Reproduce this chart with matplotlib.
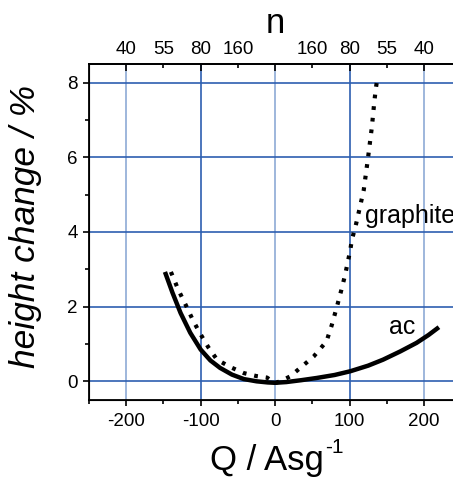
import numpy as np
from matplotlib import pyplot as plt
from matplotlib.ticker import FixedLocator, FixedFormatter

plt.rcParams['font.family'] = ['Liberation Sans', 'DejaVu Sans']
plt.rcParams['axes.unicode_minus'] = False

# ac electrode (solid line)
ac_q = [-148, -138, -127, -114, -100, -87, -74, -58, -42, -25, -10, 0, 15, 35, 56, 80, 101, 125, 145, 168, 190, 206, 220]
ac_h = [2.93, 2.38, 1.83, 1.30, 0.85, 0.56, 0.36, 0.18, 0.06, 0.0, -0.03, -0.04, -0.02, 0.03, 0.09, 0.17, 0.27, 0.42, 0.58, 0.80, 1.03, 1.24, 1.45]

# graphite electrode (dotted line)
gr_q = [-140, -130, -119, -110, -101, -90, -78, -60, -42, -25, -11, 0, 10, 20, 35, 52, 69, 76, 83, 89, 94, 101, 103, 108, 112, 119, 125, 130, 133, 135, 137]
gr_h = [2.93, 2.45, 2.0, 1.62, 1.29, 0.92, 0.58, 0.38, 0.22, 0.14, 0.10, -0.05, 0.03, 0.13, 0.38, 0.67, 1.07, 1.5, 2.0, 2.45, 2.85, 3.52, 3.79, 4.15, 4.5, 5.12, 6.02, 6.82, 7.44, 7.8, 8.08]

bottom_major = [-200, -100, 0, 100, 200]
bottom_minor = [-250, -150, -50, 50, 150, 250]
top_major = [-200, -100, 0, 100, 200]
top_major_labels = ['40', '80', '', '80', '40']
top_minor = [-150, -50, 50, 150]
top_minor_labels = ['55', '160', '160', '55']
y_major = [0, 2, 4, 6, 8]
y_minor = [1, 3, 5, 7]

W, H = 453, 480
fig = plt.figure(figsize=(W / 100, H / 100), dpi=100)
ax = fig.add_axes([0.1965, 0.1667, 0.8217, 0.7])

dark = '#2d5fb0'
light = '#8eaad5'
for q in bottom_major:
    ax.axvline(q, color=light if q in (-200, 0, 200) else dark, lw=1.2, zorder=0)
for h in y_major:
    ax.axhline(h, color=dark, lw=1.2, zorder=0)

ax.plot(ac_q, ac_h, color='black', lw=3.2, solid_capstyle='butt')
ax.plot(gr_q, gr_h, color='black', lw=3.0, linestyle=(0, (0.9, 1.9)))

ax.text(121, 4.24, 'graphite', fontsize=18, ha='left', va='baseline')
ax.text(153, 1.27, 'ac', fontsize=18, ha='left', va='baseline')

ax.set_xlim(-250, 250)
ax.set_ylim(-0.5, 8.5)
ax.xaxis.set_major_locator(FixedLocator(bottom_major))
ax.xaxis.set_minor_locator(FixedLocator(bottom_minor))
ax.yaxis.set_major_locator(FixedLocator(y_major))
ax.yaxis.set_minor_locator(FixedLocator(y_minor))
ax.tick_params(which='both', direction='out', width=1.2, labelsize=13.5)
ax.tick_params(which='major', length=4)
ax.tick_params(which='minor', length=3)
ax.tick_params(axis='x', pad=5.5)
ax.tick_params(axis='y', pad=4)
ax.spines['right'].set_visible(False)
for s in ('left', 'bottom', 'top'):
    ax.spines[s].set_linewidth(1.3)

# axis titles placed in figure pixels
xl = fig.text(210 / W, 1 - 470 / H, 'Q / Asg', fontsize=25, ha='left', va='baseline')
ax.annotate('-1', xy=(1.0, 0.62), xycoords=xl, xytext=(1, 0), textcoords='offset points',
            fontsize=15, ha='left', va='bottom')
fig.text(26 / W, 1 - 226 / H, 'height change / %', fontsize=25.5, style='italic',
         rotation=90, ha='center', va='center')

top = ax.twiny()
top.set_xlim(ax.get_xlim())
top.xaxis.set_major_locator(FixedLocator(top_major))
top.xaxis.set_major_formatter(FixedFormatter(top_major_labels))
top.xaxis.set_minor_locator(FixedLocator(top_minor))
top.xaxis.set_minor_formatter(FixedFormatter(top_minor_labels))
top.tick_params(which='both', direction='in', width=1.2, labelsize=13.5, pad=4)
top.tick_params(which='major', length=5)
top.tick_params(which='minor', length=3)
top.spines['right'].set_visible(False)
top.spines['top'].set_linewidth(1.3)
top.set_xlabel('n', fontsize=25, labelpad=6)

fig.savefig('out.png', dpi=100)
